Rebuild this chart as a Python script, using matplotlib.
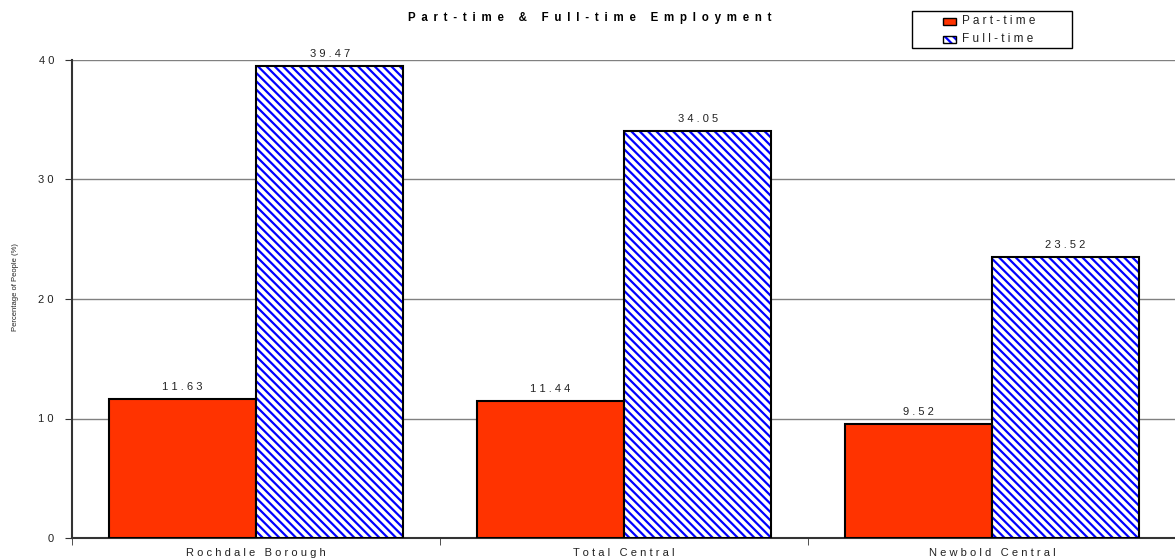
import matplotlib
matplotlib.use("Agg")
import matplotlib.pyplot as plt
from matplotlib.patches import Rectangle
import numpy as np

# data
areas = ["Rochdale Borough", "Total Central", "Newbold Central"]
part_time = [11.63, 11.44, 9.52]
full_time = [39.47, 34.05, 23.52]
yticks = [0, 10, 20, 30, 40]

EN = "\u2002"

def spaced(s, sep=" "):
    # the original chart draws its text with wide letter spacing
    return sep.join(s)

plt.rcParams['font.family'] = ['Liberation Sans', 'DejaVu Sans']
plt.rcParams['hatch.linewidth'] = 1.6

red = "#ff3300"
blue = "#0000ff"
txt = "#222222"
hatch = "\\\\\\\\"
W, H = 1175, 558

fig = plt.figure(figsize=(11.75, 5.58), dpi=100)
ax = fig.add_axes([72/W, 1-538/H, 1104/W, (538-60)/H])

x = np.arange(len(areas))
w = 0.4

ax.bar(x - w/2, part_time, w, color=red, edgecolor="black", linewidth=1.5, zorder=3)
# hatched bars: blue hatch drawn first, black border on top
ax.bar(x + w/2, full_time, w, facecolor="white", edgecolor=blue, hatch=hatch, linewidth=0, zorder=3)
ax.bar(x + w/2, full_time, w, fill=False, edgecolor="black", linewidth=1.5, zorder=4)

for xi, v in zip(x - w/2, part_time):
    ax.text(xi, v + 0.6, spaced(f"{v:.2f}"), ha="center", va="bottom", fontsize=8, color=txt)
for xi, v in zip(x + w/2, full_time):
    ax.text(xi, v + 0.6, spaced(f"{v:.2f}"), ha="center", va="bottom", fontsize=8, color=txt)

ax.set_xlim(-0.5, len(areas) - 0.5)
ax.set_ylim(0, 40)
ax.set_yticks(yticks)
ax.set_yticklabels([spaced(str(t)) for t in yticks], fontsize=8, color=txt)
ax.set_xticks(x)
ax.set_xticklabels([spaced(a) for a in areas], fontsize=8, color=txt)
ax.tick_params(axis="x", length=0, pad=7.5)
ax.set_xticks(np.arange(len(areas) + 1) - 0.5, minor=True)
ax.tick_params(axis="x", which="minor", length=5, color="#333333")
ax.tick_params(axis="y", length=5, color="#333333", pad=8)

ax.yaxis.grid(True, color="#808080", linewidth=1, zorder=0)
ax.set_axisbelow(True)
for s in ["top", "right"]:
    ax.spines[s].set_visible(False)
for s in ["left", "bottom"]:
    ax.spines[s].set_linewidth(1.5)
    ax.spines[s].set_color("#333333")

fig.text(16/W, 1-287/H, "Percentage of People (%)", rotation=90,
         ha="center", va="center", fontsize=5.5, color=txt)

fig.text(590/W, 1-18/H, spaced("Part-time & Full-time Employment", EN),
         ha="center", va="center", fontsize=8.3, fontweight="bold")

# legend box, drawn by hand to get the wide frame of the original
fig.patches.append(Rectangle((912/W, 1-48/H), 160/W, 37/H, transform=fig.transFigure,
                             facecolor="white", edgecolor="black", linewidth=1))
fig.patches.append(Rectangle((943/W, 1-24.5/H), 13/W, 7/H, transform=fig.transFigure,
                             facecolor=red, edgecolor="black", linewidth=1))
fig.patches.append(Rectangle((943/W, 1-43/H), 13/W, 7/H, transform=fig.transFigure,
                             facecolor="white", edgecolor=blue, hatch=hatch, linewidth=0))
fig.patches.append(Rectangle((943/W, 1-43/H), 13/W, 7/H, transform=fig.transFigure,
                             fill=False, edgecolor="black", linewidth=1))
fig.text(962/W, 1-21/H, spaced("Part-time"), ha="left", va="center", fontsize=8.5, color=txt)
fig.text(962/W, 1-39.5/H, spaced("Full-time"), ha="left", va="center", fontsize=8.5, color=txt)

fig.savefig("out.png", dpi=100)
